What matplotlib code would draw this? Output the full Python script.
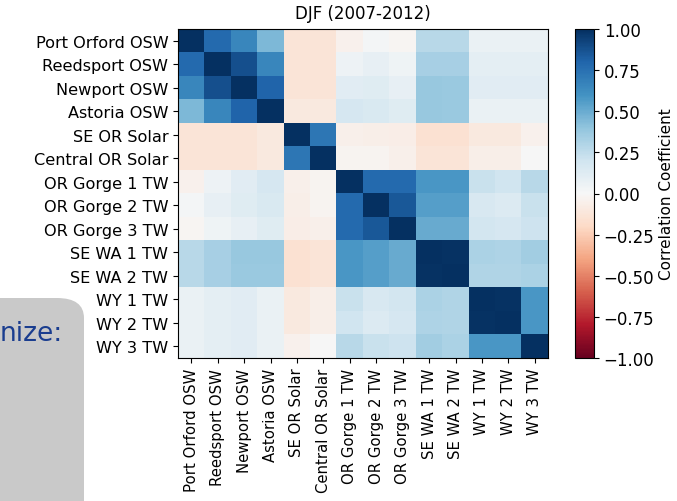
import numpy as np
import matplotlib
matplotlib.use('Agg')
import matplotlib.pyplot as plt
from matplotlib.patches import FancyBboxPatch

labels = ['Port Orford OSW', 'Reedsport OSW', 'Newport OSW', 'Astoria OSW',
          'SE OR Solar', 'Central OR Solar', 'OR Gorge 1 TW', 'OR Gorge 2 TW',
          'OR Gorge 3 TW', 'SE WA 1 TW', 'SE WA 2 TW', 'WY 1 TW', 'WY 2 TW', 'WY 3 TW']

# upper triangle of the correlation matrix, row by row
r_port = [1.00, 0.78, 0.65, 0.45, -0.13, -0.13, -0.04, 0.02, -0.02, 0.28, 0.28, 0.07, 0.07, 0.07]
r_reed = [1.00, 0.88, 0.65, -0.13, -0.13, 0.05, 0.08, 0.04, 0.33, 0.33, 0.10, 0.10, 0.10]
r_newp = [1.00, 0.80, -0.13, -0.13, 0.11, 0.12, 0.08, 0.38, 0.37, 0.11, 0.11, 0.11]
r_asto = [1.00, -0.10, -0.10, 0.17, 0.15, 0.12, 0.38, 0.37, 0.07, 0.07, 0.07]
r_seor = [1.00, 0.72, -0.05, -0.06, -0.07, -0.15, -0.15, -0.10, -0.10, -0.04]
r_cnor = [1.00, -0.03, -0.03, -0.05, -0.13, -0.13, -0.06, -0.06, 0.00]
r_org1 = [1.00, 0.78, 0.78, 0.58, 0.58, 0.22, 0.20, 0.28]
r_org2 = [1.00, 0.85, 0.55, 0.55, 0.16, 0.14, 0.22]
r_org3 = [1.00, 0.50, 0.50, 0.18, 0.17, 0.21]
r_wa1 = [1.00, 0.99, 0.32, 0.31, 0.35]
r_wa2 = [1.00, 0.30, 0.30, 0.32]
r_wy1 = [1.00, 0.99, 0.58]
r_wy2 = [1.00, 0.58]
r_wy3 = [1.00]

cbar_ticks = [-1, -0.75, -0.5, -0.25, 0, 0.25, 0.5, 0.75, 1]

rows = [r_port, r_reed, r_newp, r_asto, r_seor, r_cnor, r_org1, r_org2,
        r_org3, r_wa1, r_wa2, r_wy1, r_wy2, r_wy3]
n = len(labels)
corr = np.zeros((n, n))
for i, r in enumerate(rows):
    corr[i, i:] = r
    corr[i:, i] = r

fig = plt.figure(figsize=(6.77, 5.02), dpi=100)
ax = fig.add_axes([178/677, 1-359/502, 370/677, 329/502])
im = ax.imshow(corr, cmap='RdBu', vmin=-1, vmax=1, aspect='auto', interpolation='nearest')
ax.set_xticks(range(n))
ax.set_yticks(range(n))
ax.set_xticklabels(labels, rotation=90, fontsize=10.7)
ax.set_yticklabels(labels, fontsize=11.6)
ax.set_title('DJF (2007-2012)', fontsize=12, pad=8)

cax = fig.add_axes([575/677, 1-359/502, 19/677, 329/502])
cb = fig.colorbar(im, cax=cax)
cb.set_ticks(cbar_ticks)
cb.ax.set_yticklabels(['\u2212%.2f' % -t if t < 0 else '%.2f' % t for t in cbar_ticks],
                      fontsize=12)
cb.set_label('Correlation Coefficient', fontsize=11, labelpad=3)

# gray overlay box from the slide
box = FancyBboxPatch((-40/677, -40/502), 124/677, (502-299+40)/502,
                     boxstyle='round,pad=0,rounding_size=0.04',
                     transform=fig.transFigure, facecolor='#c9c9c9',
                     edgecolor='none', zorder=5)
fig.patches.append(box)
fig.text(63/677, 1-334/502, 'nize:', fontsize=19, color='#1a3d8f',
         ha='right', va='center', zorder=6)

fig.savefig('out.png', dpi=100)
